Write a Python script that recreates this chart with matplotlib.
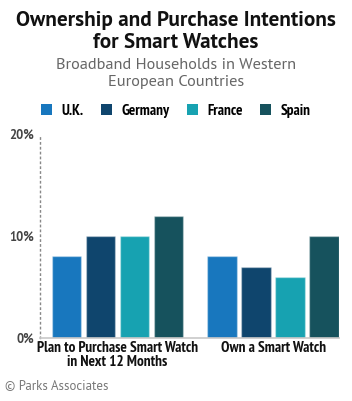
import matplotlib
matplotlib.use("Agg")
import matplotlib.pyplot as plt
import numpy as np
from matplotlib.patches import Patch
import logging
logging.getLogger("matplotlib.font_manager").setLevel(logging.ERROR)

categories = ["Plan to Purchase Smart Watch\nin Next 12 Months", "Own a Smart Watch"]
series_names = ["U.K.", "Germany", "France", "Spain"]
uk = [8, 8]
germany = [10, 7]
france = [10, 6]
spain = [12, 10]
values = [uk, germany, france, spain]
colors = ["#1877BE", "#0F456D", "#17A2B1", "#16525D"]
yticks = [0, 10, 20]
ytick_labels = ["0%", "10%", "20%"]

narrow = ["PT Sans Narrow", "Roboto Condensed", "Archivo Narrow", "Barlow Semi Condensed", "DejaVu Sans"]
main = ["PT Sans", "Source Sans 3", "Source Sans Pro", "Open Sans", "DejaVu Sans"]

fig = plt.figure(figsize=(3.52, 4.01), dpi=100)
ax = fig.add_axes([39.5 / 352, 63 / 401, (339 - 39.5) / 352, 204 / 401])

x = np.arange(len(categories))
step = 0.219
width = 0.19
for i, (vals, c) in enumerate(zip(values, colors)):
    ax.bar(x + (i - 1.5) * step, vals, width=width, color=c,
           edgecolor=(1, 1, 1, 0.35), linewidth=1.0, label=series_names[i], zorder=2)

ax.set_ylim(0, 20)
ax.set_xlim(-0.502, 1 + 1.5 * step + width / 2)
ax.set_yticks(yticks)
ax.set_yticklabels(ytick_labels, fontfamily=main, fontweight="bold", fontsize=9, color="#444444")
ax.set_xticks(x)
ax.set_xticklabels(categories, fontfamily=narrow, fontweight="bold", fontsize=11, color="#111111",
                   linespacing=0.95)
ax.tick_params(axis="both", length=0, pad=4)
ax.tick_params(axis="x", pad=2.5)
for s in ["top", "right"]:
    ax.spines[s].set_visible(False)
ax.spines["left"].set_linestyle((0, (1, 2.5)))
ax.spines["left"].set_color("#888888")
ax.spines["left"].set_linewidth(1.0)
ax.spines["bottom"].set_color("#C8C8C8")
ax.spines["bottom"].set_linewidth(1.2)

fig.text(0.5, 1 - 20 / 401, "Ownership and Purchase Intentions", ha="center", va="center",
         fontfamily=main, fontweight="bold", fontsize=15.2, color="#111111")
fig.text(0.5, 1 - 42 / 401, "for Smart Watches", ha="center", va="center",
         fontfamily=main, fontweight="bold", fontsize=15.2, color="#111111")
fig.text(0.5, 1 - 65 / 401, "Broadband Households in Western", ha="center", va="center",
         fontfamily=main, fontsize=11.8, color="#666666")
fig.text(0.5, 1 - 82 / 401, "European Countries", ha="center", va="center",
         fontfamily=main, fontsize=11.8, color="#666666")

handles = [Patch(facecolor=c, edgecolor="none") for c in colors]
fig.legend(handles, series_names, loc="center", bbox_to_anchor=(0.5, 1 - 111 / 401), ncol=4,
           frameon=False, prop={"family": narrow, "weight": "bold", "size": 11},
           handlelength=0.72, handleheight=0.72, handletextpad=0.6, columnspacing=1.15,
           borderaxespad=0, borderpad=0)

fig.text(5 / 352, 1 - 386 / 401, "© Parks Associates", ha="left", va="center",
         fontfamily=main, fontsize=9.3, color="#777777")

fig.savefig("out.png", dpi=100)
